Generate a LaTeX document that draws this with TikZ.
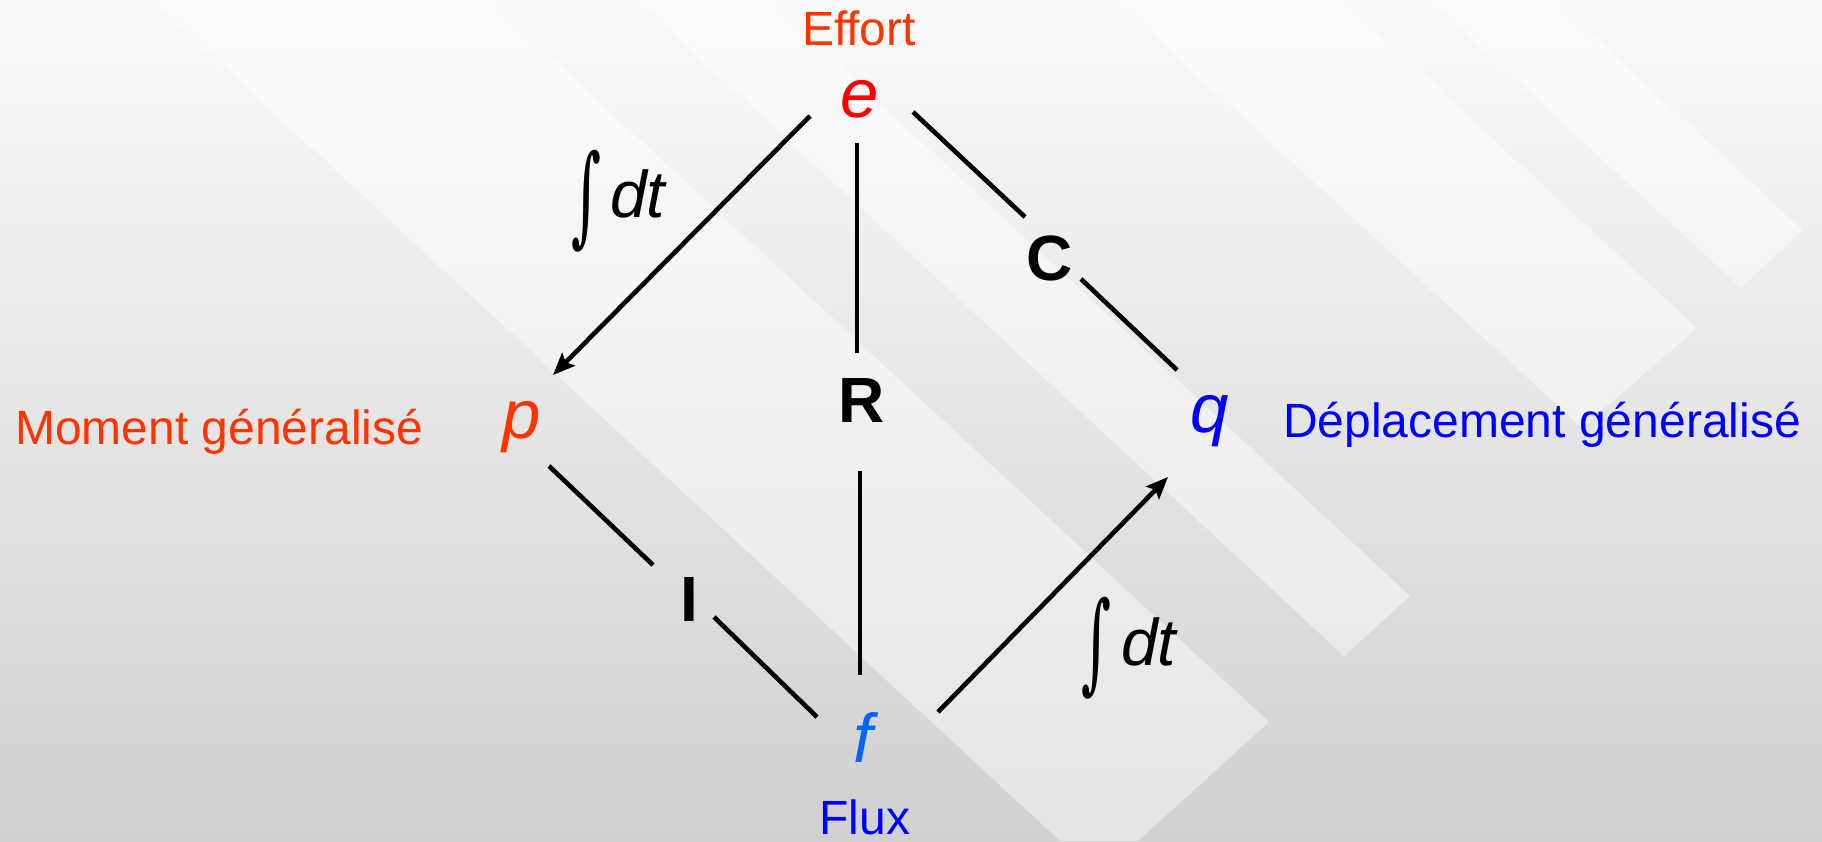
\documentclass[tikz,border=0pt]{standalone}
\usepackage{fontspec}
\usepackage{graphicx}
\setmainfont{Liberation Sans}
\newfontfamily\serifint{DejaVu Serif}
\usetikzlibrary{arrows.meta}
\definecolor{effortc}{HTML}{FF3300}
\definecolor{ered}{HTML}{FF0000}
\definecolor{qblue}{HTML}{0000FF}
\definecolor{fblue}{HTML}{0066FF}
\definecolor{bgtop}{HTML}{FAFAFA}
\definecolor{bgbot}{HTML}{D0D0D0}
\tikzset{
  lbl/.style={inner sep=0pt, anchor=base, font=\fontsize{48}{56}\selectfont},
  var/.style={inner sep=0pt, anchor=base, font=\fontsize{69}{80}\selectfont\itshape},
  elem/.style={inner sep=0pt, anchor=base, font=\fontsize{64}{76}\selectfont\bfseries},
  bond/.style={line width=4.6pt, line cap=butt},
  flow/.style={line width=4.6pt, -{Stealth[length=22pt,width=18pt,inset=4pt]}},
  stripe/.style={fill=white, fill opacity=0.45, draw=none},
  intg/.style={inner sep=0pt},
  dtl/.style={inner sep=0pt, anchor=base west, font=\fontsize{66}{78}\selectfont\itshape},
}
\begin{document}
\begin{tikzpicture}[x=1pt,y=-1pt]
\useasboundingbox (0,0) rectangle (1822,841);
\shade[top color=bgtop,bottom color=bgbot] (0,0) rectangle (1822,841);
% light diagonal stripes
\fill[stripe] (152,0) -- (489,0) -- (1269,722) -- (1138,841) -- (1060,841) -- cycle;
\fill[stripe] (637,0) -- (769,0) -- (1410,596) -- (1344,656) -- cycle;
\fill[stripe] (1115,0) -- (1343,0) -- (1697,328) -- (1582,428) -- cycle;
\fill[stripe] (1430,0) -- (1555,0) -- (1803,230) -- (1741,288) -- cycle;
% texts
\node[lbl, text=effortc] (effort) at (859,45) {Effort};
\node[var, text=ered] (e) at (860,117) {e};
\node[var, text=effortc] (p) at (522,438) {p};
\node[var, text=qblue] (q) at (1210,432) {q};
\node[var, text=fblue] (f) at (863,762) {f};
\node[lbl, text=effortc, anchor=base west] (moment) at (15,444) {Moment généralisé};
\node[lbl, text=qblue, anchor=base west] (depl) at (1283,437) {Déplacement généralisé};
\node[lbl, text=qblue] (flux) at (865,834) {Flux};
\node[elem] (R) at (862,422) {R};
\node[elem] (C) at (1050,280) {C};
\node[elem] (I) at (689,621) {I};
\node[intg] (int1) at (586,201) {\resizebox*{30pt}{102pt}{\serifint ∫}};
\node[dtl] (dt1) at (610,217) {dt};
\node[intg] (int2) at (1096,648) {\resizebox*{30pt}{102pt}{\serifint ∫}};
\node[dtl] (dt2) at (1121,665) {dt};
% connector end points
\coordinate (ep1) at (810,116);
\coordinate (ep2) at (553,375);
\coordinate (er1) at (857,143);
\coordinate (er2) at (857,353);
\coordinate (rf1) at (860,471);
\coordinate (rf2) at (860,675);
\coordinate (ec1) at (913,112);
\coordinate (ec2) at (1025,217);
\coordinate (cq1) at (1081,279);
\coordinate (cq2) at (1177,370);
\coordinate (pi1) at (549,466);
\coordinate (pi2) at (653,565);
\coordinate (if1) at (714,617);
\coordinate (if2) at (817,717);
\coordinate (fq1) at (938,712);
\coordinate (fq2) at (1168,477);
% connectors
\draw[flow] (ep1) -- (ep2);
\draw[bond] (er1) -- (er2);
\draw[bond] (rf1) -- (rf2);
\draw[bond] (ec1) -- (ec2);
\draw[bond] (cq1) -- (cq2);
\draw[bond] (pi1) -- (pi2);
\draw[bond] (if1) -- (if2);
\draw[flow] (fq1) -- (fq2);
\end{tikzpicture}
\end{document}
